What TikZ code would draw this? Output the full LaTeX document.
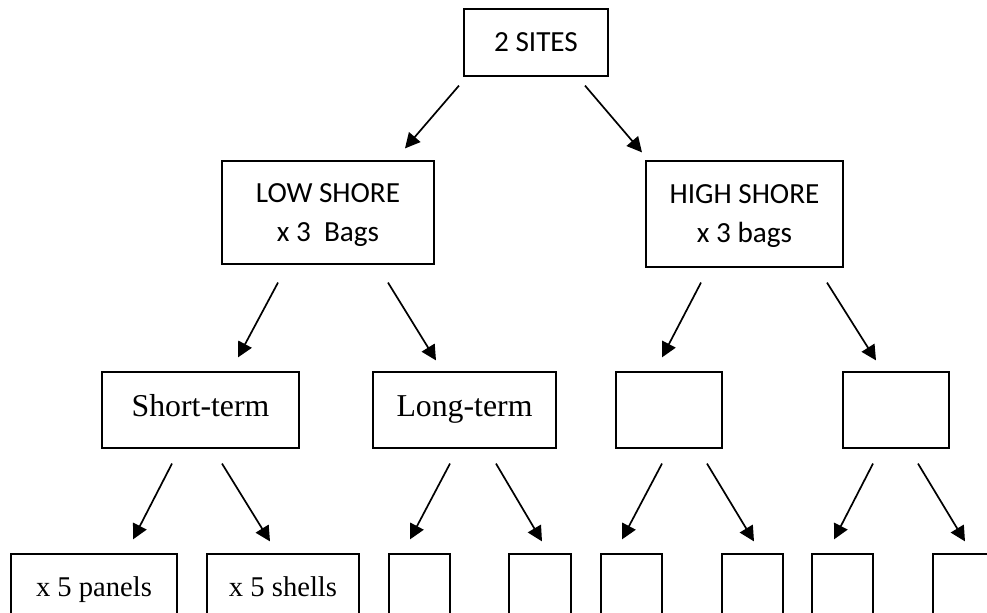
\documentclass[tikz,border=0pt]{standalone}
\usepackage{fontspec}
\setmainfont{Liberation Serif}
\newfontfamily\calibri{Carlito}
\usetikzlibrary{arrows.meta,calc}

\tikzset{
  box/.style={draw, line width=0.6pt, inner sep=0pt, text centered},
  sansbox/.style={box, font=\calibri\fontsize{14.6}{19.5}\selectfont, align=center},
  termbox/.style={box, font=\fontsize{15.9}{18}\selectfont, minimum height=38pt,
    text height=0.9em, text depth=0.2em},
  leafbox/.style={box, font=\fontsize{14.3}{17}\selectfont, minimum height=32pt,
    text height=1.3em, text depth=0.2em},
  arr/.style={line width=0.85pt, -{Triangle[length=7.5pt,width=7.5pt]}}
}

\begin{document}
\begin{tikzpicture}[x=0.5pt,y=-0.5pt]
\useasboundingbox (0,0) rectangle (987,613);
\clip (0,0) rectangle (987,613);

    \node[sansbox, minimum width=72pt, minimum height=33.5pt] (sites) at (536,42.5) {2 SITES};
    \node[sansbox, minimum width=106pt, minimum height=51.5pt, text depth=0pt] (low) at (328,212.5) {LOW SHORE\\x 3~ Bags};
    \node[sansbox, minimum width=98.5pt, minimum height=53pt, text depth=0pt] (high) at (744.5,214) {HIGH SHORE\\x 3 bags};

    \node[termbox, minimum width=98.5pt] (short) at (200.5,410) {Short-term};
    \node[termbox, minimum width=91.5pt] (long) at (464.5,410) {Long-term};
    \node[termbox, minimum width=53pt] (emptyA) at (669,410) {};
    \node[termbox, minimum width=53pt] (emptyB) at (896,410) {};

    \node[leafbox, minimum width=83pt] (panels) at (94,586) {x 5 panels};
    \node[leafbox, minimum width=76pt] (shells) at (283,586) {x 5 shells};
    \node[leafbox, minimum width=30.5pt] (leafC) at (419.5,586) {};
    \node[leafbox, minimum width=31pt] (leafD) at (540,586) {};
    \node[leafbox, minimum width=30.5pt] (leafE) at (631.5,586) {};
    \node[leafbox, minimum width=30.5pt] (leafF) at (752.5,586) {};
    \node[leafbox, minimum width=30.5pt] (leafG) at (842.5,586) {};
    \node[leafbox, minimum width=30.5pt] (leafH) at (963.5,586) {};

\draw[arr] ($(sites.south)+(-77,9)$) -- ($(low.north)+(77,-12)$);
\draw[arr] ($(sites.south)+(49,9)$) -- ($(high.north)+(-102.5,-8)$);

\draw[arr] ($(low.south)+(-50,18)$) -- ($(short.north)+(37.5,-14)$);
\draw[arr] ($(low.south)+(60,18)$) -- ($(long.north)+(-28.5,-11)$);
\draw[arr] ($(high.south)+(-43.5,15)$) -- ($(emptyA.north)+(-7,-14)$);
\draw[arr] ($(high.south)+(82.5,15)$) -- ($(emptyB.north)+(-20,-11)$);

\draw[arr] ($(short.south)+(-28.5,15)$) -- ($(panels.north)+(39,-14)$);
\draw[arr] ($(short.south)+(21.5,15)$) -- ($(shells.north)+(-13,-12)$);
\draw[arr] ($(long.south)+(-14.5,15)$) -- ($(leafC.north)+(-9.5,-14)$);
\draw[arr] ($(long.south)+(31.5,15)$) -- ($(leafD.north)+(2,-12)$);
\draw[arr] ($(emptyA.south)+(-7,15)$) -- ($(leafE.north)+(-9.5,-14)$);
\draw[arr] ($(emptyA.south)+(38,15)$) -- ($(leafF.north)+(1.5,-12)$);
\draw[arr] ($(emptyB.south)+(-23,15)$) -- ($(leafG.north)+(-8.5,-14)$);
\draw[arr] ($(emptyB.south)+(22,15)$) -- ($(leafH.north)+(1.5,-12)$);
\end{tikzpicture}
\end{document}
